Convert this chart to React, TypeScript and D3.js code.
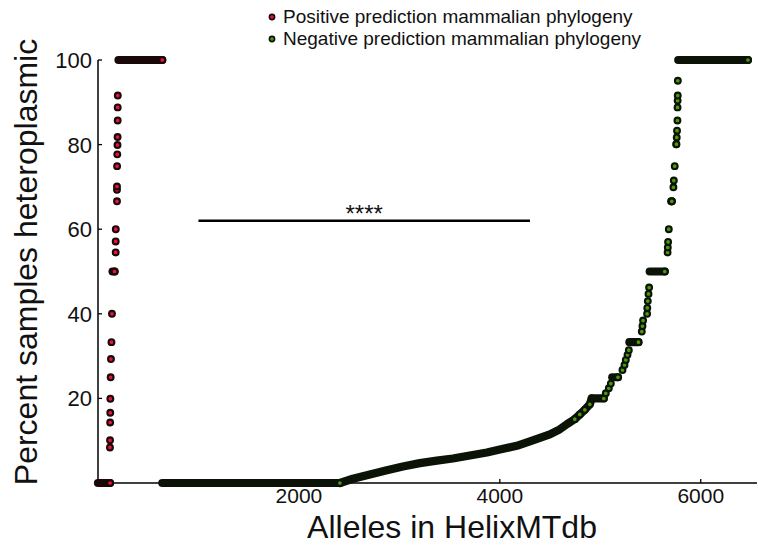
import React from "react";
import * as d3 from "d3";

// ---------- data ----------
// runs of identical values: [startRank, endRank, percent]
const posRuns: [number, number, number][] = [
  [0, 120, 0],
  [145, 165, 50],
  [204, 640, 100],
];
// individual positive alleles: [rank, percent]
const posPoints: [number, number][] = [
  [119, 8.4], [120, 10.1], [121, 14.3], [122, 16.6], [123, 19.9], [126, 25.0],
  [129, 29.3], [134, 33.3], [139, 40.0], [176, 54.5], [176, 57.1], [177, 60.0],
  [189, 66.6], [189, 69.3], [189, 70.1], [190, 74.9], [192, 77.7], [194, 79.9],
  [195, 81.8], [196, 85.7], [196, 88.8], [197, 91.6],
];
const negRuns: [number, number, number][] = [
  [640, 2408, 0],
  [4915, 5035, 20],
  [5119, 5176, 25],
  [5290, 5380, 33.3],
  [5492, 5642, 50],
  [5706, 5712, 66.6],
  [5776, 6470, 100],
];
// densely packed negative alleles (they merge into one band)
const negCurve: [number, number][] = [
  [2408, 0], [2537, 1.0], [2706, 2.0], [2876, 3.0], [3035, 3.9], [3204, 4.7],
  [3373, 5.3], [3532, 5.8], [3701, 6.5], [3871, 7.2], [4000, 7.9], [4169, 8.8],
  [4328, 10.1], [4498, 11.5], [4597, 12.7], [4667, 13.9], [4746, 15.1],
  [4796, 16.2], [4846, 17.3], [4896, 18.6], [4915, 20],
];
// sparse negative alleles, visible as single dots
const negPoints: [number, number][] = [
  [4746, 15.1], [4796, 16.2], [4846, 17.3], [4896, 18.6],
  [5055, 21.2], [5085, 22.4], [5105, 23.5],
  [5221, 26.7], [5241, 27.9], [5254, 29.1], [5271, 30.3], [5284, 31.4],
  [5413, 35.8], [5420, 37.1], [5426, 38.4], [5466, 40.0], [5468, 41.4],
  [5473, 43.0], [5480, 44.7], [5486, 46.2],
  [5670, 54.5], [5672, 55.7], [5675, 57.0], [5682, 60.0],
  [5728, 69.9], [5732, 71.5], [5741, 74.9], [5756, 80.1], [5758, 80.1],
  [5761, 81.7], [5764, 83.3], [5768, 85.7], [5769, 88.8], [5770, 90.4],
  [5771, 91.6], [5772, 95.1],
];
const xTicks = [2000, 4000, 6000];
const yTicks = [20, 40, 60, 80, 100];
const legendLabels = [
  "Positive prediction mammalian phylogeny",
  "Negative prediction mammalian phylogeny",
];
const sigBar = { x1: 1000, x2: 4300, y: 62, label: "****" };

// ---------- styles ----------
const RED = "#ee1040";
const GREEN = "#4c9a0c";
const RED_DARK = "#1a0808";
const GREEN_DARK = "#0b1306";
const FONT = "'Liberation Sans', Arial, Helvetica, sans-serif";
const R = 2.9;
const SW = 2.1;
const BAND = 8.2;

export default function App() {
  const W = 758;
  const H = 556;
  const x = d3.scaleLinear().domain([0, 6560]).range([98, 757]);
  const y = d3.scaleLinear().domain([0, 100]).range([483, 60]);
  const line = d3
    .line<[number, number]>()
    .x((d) => x(d[0]))
    .y((d) => y(d[1]));

  const renderRuns = (runs: [number, number, number][], dark: string, fill: string, key: string) =>
    runs.map((r, i) => (
      <g key={key + i}>
        <line
          x1={x(r[0])}
          x2={x(r[1])}
          y1={y(r[2])}
          y2={y(r[2])}
          stroke={dark}
          strokeWidth={BAND}
          strokeLinecap="round"
        />
        <circle cx={x(r[1])} cy={y(r[2])} r={R} fill={fill} stroke={dark} strokeWidth={SW} />
      </g>
    ));

  const renderPoints = (pts: [number, number][], dark: string, fill: string, key: string) =>
    pts.map((p, i) => (
      <circle key={key + i} cx={x(p[0])} cy={y(p[1])} r={R} fill={fill} stroke={dark} strokeWidth={SW} />
    ));

  return (
    <svg
      width={W}
      height={H}
      style={{ position: "absolute", left: 0, top: 0, background: "#fff" }}
      fontFamily={FONT}
    >
      <rect width={W} height={H} fill="#fff" />
      {/* axes */}
      <line x1={x(0)} x2={x(0)} y1={y(0)} y2={y(100)} stroke="#000" strokeWidth={1.5} />
      <line x1={x(0)} x2={x(6560)} y1={y(0)} y2={y(0)} stroke="#000" strokeWidth={1.5} />
      {yTicks.map((t) => (
        <g key={"yt" + t}>
          <line x1={x(0)} x2={x(0) + 4} y1={y(t)} y2={y(t)} stroke="#000" strokeWidth={1.3} />
          <text x={92} y={y(t)} dy="0.36em" textAnchor="end" fontSize={22} fill="#111">
            {t}
          </text>
        </g>
      ))}
      {xTicks.map((t) => (
        <g key={"xt" + t}>
          <line x1={x(t)} x2={x(t)} y1={y(0)} y2={y(0) - 4} stroke="#000" strokeWidth={1.3} />
          <text x={x(t)} y={503} textAnchor="middle" fontSize={21} fill="#111">
            {t}
          </text>
        </g>
      ))}
      <text x={452} y={538} textAnchor="middle" fontSize={32} fill="#111">
        Alleles in HelixMTdb
      </text>
      <text
        transform={`translate(37,262) rotate(-90)`}
        textAnchor="middle"
        fontSize={32}
        fill="#111"
      >
        Percent samples heteroplasmic
      </text>

      {/* significance bar */}
      <line
        x1={x(sigBar.x1)}
        x2={x(sigBar.x2)}
        y1={y(sigBar.y)}
        y2={y(sigBar.y)}
        stroke="#000"
        strokeWidth={2.5}
      />
      <text x={(x(sigBar.x1) + x(sigBar.x2)) / 2} y={y(sigBar.y) + 1} textAnchor="middle" fontSize={24} fill="#111">
        {sigBar.label}
      </text>

      {/* positive (red) */}
      {renderRuns(posRuns, RED_DARK, RED, "pr")}
      {renderPoints(posPoints, RED_DARK, RED, "pp")}

      {/* negative (green) */}
      <path
        d={line(negCurve) || ""}
        fill="none"
        stroke={GREEN_DARK}
        strokeWidth={BAND}
        strokeLinecap="round"
        strokeLinejoin="round"
      />
      {renderRuns(negRuns, GREEN_DARK, GREEN, "nr")}
      {renderPoints(negPoints, GREEN_DARK, GREEN, "np")}

      {/* legend */}
      {legendLabels.map((l, i) => (
        <g key={"lg" + i}>
          <circle
            cx={272}
            cy={17 + i * 22}
            r={2.6}
            fill={i === 0 ? RED : GREEN}
            stroke={i === 0 ? RED_DARK : GREEN_DARK}
            strokeWidth={1.6}
          />
          <text x={283} y={23 + i * 22} fontSize={19} fill="#111">
            {l}
          </text>
        </g>
      ))}
    </svg>
  );
}
